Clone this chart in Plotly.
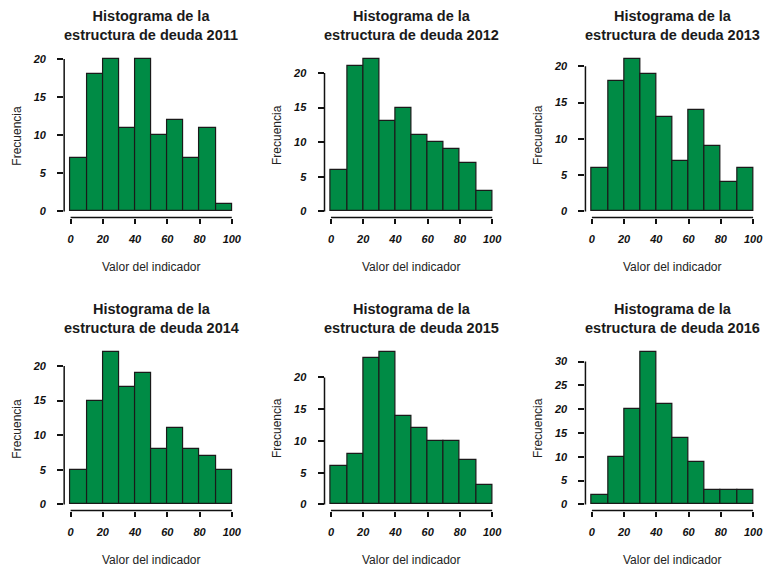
import plotly.graph_objects as go

years = ["2011", "2012", "2013", "2014", "2015", "2016"]
bin_edges = [0, 10, 20, 30, 40, 50, 60, 70, 80, 90, 100]
counts_2011 = [7, 18, 20, 11, 20, 10, 12, 7, 11, 1]
counts_2012 = [6, 21, 22, 13, 15, 11, 10, 9, 7, 3]
counts_2013 = [6, 18, 21, 19, 13, 7, 14, 9, 4, 6]
counts_2014 = [5, 15, 22, 17, 19, 8, 11, 8, 7, 5]
counts_2015 = [6, 8, 23, 24, 14, 12, 10, 10, 7, 3]
counts_2016 = [2, 10, 20, 32, 21, 14, 9, 3, 3, 3]
x_ticks = [0, 20, 40, 60, 80, 100]

all_counts = [counts_2011, counts_2012, counts_2013, counts_2014, counts_2015, counts_2016]

W, H = 768, 571
col_left = [64.5, 326.2, 588.5]
col_w = 175.0
row_top = [53.0, 346.0]
row_h = 164.5

BAR = "#008B45"
FONT = "Liberation Sans, Arial, sans-serif"

centers = [(a + b) / 2 for a, b in zip(bin_edges[:-1], bin_edges[1:])]
widths = [b - a for a, b in zip(bin_edges[:-1], bin_edges[1:])]

fig = go.Figure()
annotations = []
shapes = []

for i, (yr, cnt) in enumerate(zip(years, all_counts)):
    r, c = divmod(i, 3)
    n = i + 1
    xa = "x" if n == 1 else f"x{n}"
    ya = "y" if n == 1 else f"y{n}"
    xk = "xaxis" if n == 1 else f"xaxis{n}"
    yk = "yaxis" if n == 1 else f"yaxis{n}"
    x0 = col_left[c] / W
    x1 = (col_left[c] + col_w) / W
    ytop = 1 - row_top[r] / H
    ybot = 1 - (row_top[r] + row_h) / H

    fig.add_trace(go.Bar(
        x=centers, y=cnt, width=widths,
        marker=dict(color=BAR, line=dict(color="#1a1a1a", width=1.2)),
        xaxis=xa, yaxis=ya, showlegend=False, hoverinfo="x+y",
    ))
    ymax = max(cnt)
    yticks = list(range(0, ymax + 1, 5))
    ext = 0.04 * ymax
    tickfont = dict(family=FONT, size=11, color="#111111", weight="bold", style="italic")
    fig.layout[xk] = dict(
        domain=[x0, x1], anchor=ya, range=[-4, 104],
        tickvals=x_ticks, ticktext=[str(v) for v in x_ticks],
        ticks="outside", ticklen=5, tickcolor="#111111", tickwidth=1.5,
        showline=False, showgrid=False, zeroline=False,
        tickfont=tickfont, ticklabelstandoff=6, fixedrange=True,
    )
    fig.layout[yk] = dict(
        domain=[ybot, ytop], anchor=xa, range=[-ext, ymax + ext],
        tickvals=yticks, ticktext=[str(v) for v in yticks],
        ticks="outside", ticklen=6, tickcolor="#111111", tickwidth=1.5,
        showline=False, showgrid=False, zeroline=False,
        tickfont=tickfont, ticklabelstandoff=9, fixedrange=True,
    )
    # R-style axis lines spanning first to last tick
    shapes.append(dict(type="line", xref=xa, yref=f"{ya} domain",
                       x0=x_ticks[0], x1=x_ticks[-1], y0=0, y1=0,
                       line=dict(color="#111111", width=1.5)))
    shapes.append(dict(type="line", xref=f"{xa} domain", yref=ya,
                       x0=0, x1=0, y0=yticks[0], y1=yticks[-1],
                       line=dict(color="#111111", width=1.5)))
    xc = (x0 + x1) / 2
    title_y = 1 - (row_top[r] - 27.5) / H
    annotations.append(dict(
        text=f"<b>Histograma de la<br>estructura de deuda {yr}</b>",
        x=xc, y=title_y, xref="paper", yref="paper", showarrow=False,
        xanchor="center", yanchor="middle",
        font=dict(family=FONT, size=14.5, color="#1a1a1a"),
    ))
    annotations.append(dict(
        text="Valor del indicador",
        x=xc, y=1 - (row_top[r] + row_h + 49.5) / H, xref="paper", yref="paper",
        showarrow=False, xanchor="center", yanchor="middle",
        font=dict(family=FONT, size=12, color="#222222"),
    ))
    annotations.append(dict(
        text="Frecuencia", textangle=-90,
        x=(col_left[c] - 47) / W, y=(ytop + ybot) / 2, xref="paper", yref="paper",
        showarrow=False, xanchor="center", yanchor="middle",
        font=dict(family=FONT, size=12, color="#222222"),
    ))

fig.update_layout(
    width=W, height=H,
    margin=dict(l=0, r=0, t=0, b=0),
    paper_bgcolor="white", plot_bgcolor="white",
    bargap=0, annotations=annotations, shapes=shapes,
)

fig.write_html(
    "out.html",
    config={"displayModeBar": False},
    post_script="document.body.style.margin='0';document.body.style.padding='0';document.body.style.overflow='hidden';",
)
